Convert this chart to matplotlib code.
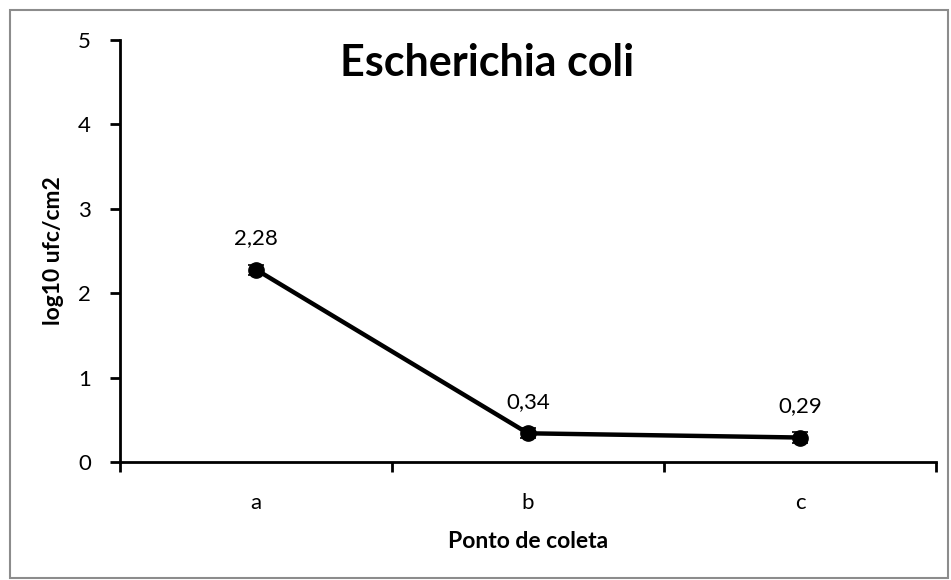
import matplotlib
matplotlib.use("Agg")
import matplotlib.pyplot as plt
from matplotlib.patches import Rectangle

plt.rcParams["font.family"] = ["Lato", "DejaVu Sans"]

# pontos de coleta e contagens médias (log10 ufc/cm2)
pontos = ["a", "b", "c"]
media = [2.28, 0.34, 0.29]
erro = [0.06, 0.06, 0.06]
rotulos = ["2,28", "0,34", "0,29"]

fig = plt.figure(figsize=(9.51, 5.80), dpi=100)
fig.patches.append(Rectangle((10 / 951, 2 / 580), 938 / 951, 568 / 580,
                             transform=fig.transFigure, fill=False,
                             edgecolor="#8c8c8c", linewidth=1.5))
ax = fig.add_axes([120 / 951, 118 / 580, 816 / 951, 422 / 580])

x = list(range(len(pontos)))
ax.errorbar(x, media, yerr=erro, color="black", lw=3.2, marker="o",
            markersize=11, ecolor="black", elinewidth=1.2, capsize=6, capthick=1.2)
for xi, yi, t in zip(x, media, rotulos):
    ax.text(xi, yi + 0.25, t, ha="center", va="bottom", fontsize=16)

ax.set_xlim(-0.5, 2.5)
ax.set_ylim(0, 5)
ax.set_yticks(range(6))
ax.set_xticks([-0.5, 0.5, 1.5, 2.5])
ax.set_xticklabels([])
ax.set_xticks(x, minor=True)
ax.set_xticklabels(pontos, minor=True)
ax.tick_params(axis="x", which="major", direction="out", length=7, width=2)
ax.tick_params(axis="x", which="minor", length=0, labelsize=16, pad=22)
ax.tick_params(axis="y", direction="out", length=7, width=2, labelsize=16, pad=14)
for s in ("top", "right"):
    ax.spines[s].set_visible(False)
for s in ("left", "bottom"):
    ax.spines[s].set_linewidth(2)

ax.set_xlabel("Ponto de coleta", fontsize=16.5, fontweight="bold", labelpad=13)
ax.set_ylabel("log10 ufc/cm2", fontsize=16.5, fontweight="bold", labelpad=10)
ax.text(0.45, 0.945, "Escherichia coli", transform=ax.transAxes, ha="center",
        va="center", fontsize=31, fontweight="bold")

fig.savefig("out.png", dpi=100)
